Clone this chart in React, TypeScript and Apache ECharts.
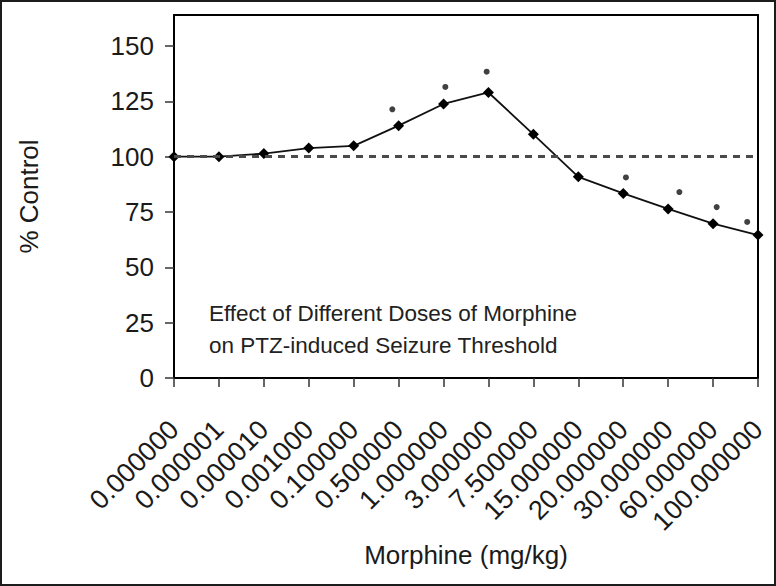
import React, { useEffect, useRef } from "react";
import * as echarts from "echarts";

const categories = [
  "0.000000",
  "0.000001",
  "0.000010",
  "0.001000",
  "0.100000",
  "0.500000",
  "1.000000",
  "3.000000",
  "7.500000",
  "15.000000",
  "20.000000",
  "30.000000",
  "60.000000",
  "100.000000",
];
const percentControl = [100, 100, 101.4, 103.9, 104.9, 114, 123.8, 129, 110.1, 90.9, 83.4, 76.4, 69.7, 64.6];
const significancePositions = [4.86, 6.04, 6.96, 10.06, 11.25, 12.08, 12.76];
const significanceHeights = [121.4, 131.5, 138.4, 90.6, 84.0, 77.2, 70.5];
const yTicks = [0, 25, 50, 75, 100, 125, 150];
const controlLevel = 100;
const titleLines = ["Effect of Different Doses of Morphine", "on PTZ-induced Seizure Threshold"];

const FONT = "'Liberation Sans', Arial, sans-serif";
const INK = "#1a1a1a";

export default function App() {
  const ref = useRef<HTMLDivElement>(null);

  useEffect(() => {
    document.body.style.margin = "0";
    if (!ref.current) return;
    const chart = echarts.init(ref.current, null, { renderer: "svg" });
    chart.setOption({
      animation: false,
      backgroundColor: "#ffffff",
      grid: {
        left: 172,
        top: 13,
        right: 16,
        bottom: 206,
        show: true,
        borderColor: "#000",
        borderWidth: 2,
        backgroundColor: "transparent",
      },
      xAxis: [
        {
          type: "category",
          data: categories,
          boundaryGap: false,
          name: "Morphine (mg/kg)",
          nameLocation: "middle",
          nameGap: 163,
          nameTextStyle: { fontFamily: FONT, fontSize: 26, color: INK },
          axisLine: { lineStyle: { color: "#000", width: 2 } },
          axisTick: { show: true, length: 9, lineStyle: { color: "#333", width: 1.5 } },
          axisLabel: {
            rotate: 45,
            interval: 0,
            margin: 47,
            fontFamily: FONT,
            fontSize: 27,
            color: INK,
          },
          splitLine: { show: false },
        },
        {
          type: "value",
          min: 0,
          max: categories.length - 1,
          show: false,
        },
      ],
      yAxis: {
        type: "value",
        min: 0,
        max: 164,
        name: "% Control",
        nameLocation: "middle",
        nameGap: 132,
        nameTextStyle: { fontFamily: FONT, fontSize: 26, color: INK },
        axisLine: { show: true, lineStyle: { color: "#000", width: 2 } },
        axisTick: { show: true, length: 9, customValues: yTicks, lineStyle: { color: "#333", width: 1.5 } },
        axisLabel: {
          customValues: yTicks,
          margin: 20,
          fontFamily: FONT,
          fontSize: 26,
          color: INK,
        },
        splitLine: { show: false },
      },
      graphic: [
        {
          type: "text",
          left: 207,
          top: 295,
          style: {
            text: titleLines.join("\n"),
            fontFamily: FONT,
            fontSize: 22.5,
            lineHeight: 32,
            fill: "#222",
          },
        },
      ],
      series: [
        {
          type: "line",
          data: [],
          z: 1,
          silent: true,
          markLine: {
            silent: true,
            symbol: "none",
            label: { show: false },
            lineStyle: { type: [7, 6], color: "#4a4a4a", width: 2.8 },
            data: [{ yAxis: controlLevel }],
          },
        },
        {
          type: "line",
          data: percentControl,
          z: 3,
          symbol: "diamond",
          symbolSize: 11,
          showSymbol: true,
          lineStyle: { color: "#111", width: 1.8 },
          itemStyle: { color: "#000" },
        },
        {
          type: "scatter",
          xAxisIndex: 1,
          z: 3,
          data: significancePositions.map((x, i) => [x, significanceHeights[i]]),
          symbol: "circle",
          symbolSize: 6,
          itemStyle: { color: "#111" },
        },
      ],
    });
    return () => chart.dispose();
  }, []);

  return (
    <div
      ref={ref}
      style={{
        width: 776,
        height: 586,
        boxSizing: "border-box",
        border: "2px solid #1c1c1c",
        background: "#fff",
      }}
    />
  );
}
